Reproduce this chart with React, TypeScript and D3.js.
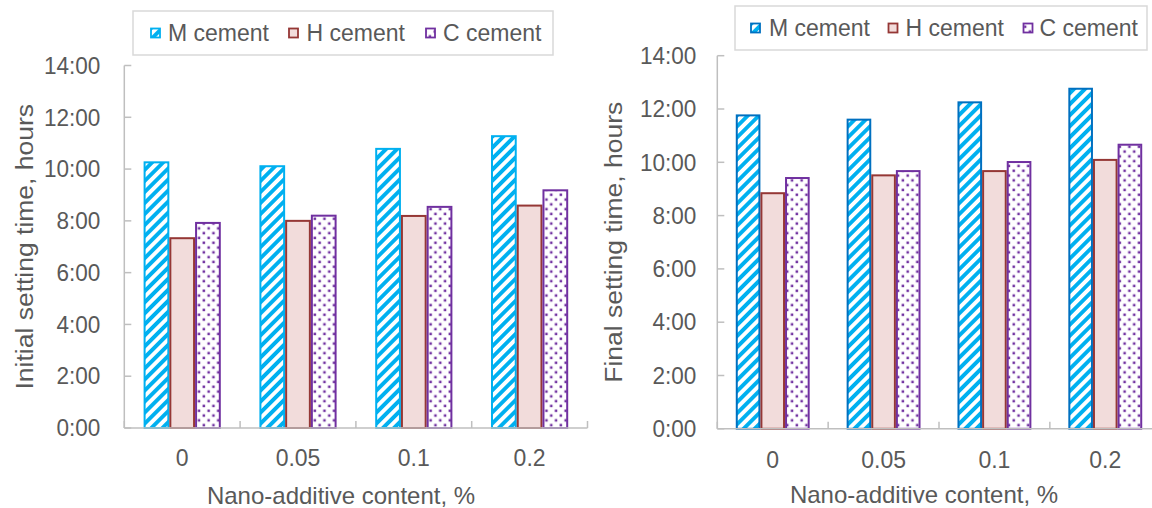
import React from "react";
import * as d3 from "d3";

// Nano-additive dosage categories (x axis)
const contents = ["0", "0.05", "0.1", "0.2"];
const seriesNames = ["M cement", "H cement", "C cement"];

// Setting times in hours
const initialM = [10.26, 10.11, 10.78, 11.27];
const initialH = [7.33, 8.0, 8.19, 8.59];
const initialC = [7.92, 8.2, 8.54, 9.18];

const finalM = [11.76, 11.6, 12.25, 12.76];
const finalH = [8.84, 9.51, 9.67, 10.09];
const finalC = [9.41, 9.67, 10.01, 10.66];

const yTicks = [0, 2, 4, 6, 8, 10, 12, 14];

const FONT = "'Liberation Sans', Arial, Helvetica, sans-serif";
const TEXT = "#595959";
const AXIS = "#BFBFBF";

type Label = {
  x: number;
  y: number;
  text: string;
  size: number;
  anchor?: "start" | "middle" | "end";
  sx?: number;
  rotate?: number;
};

// Text drawn in its own frame so it can be rotated / narrowed
function Txt({ x, y, text, size, anchor = "start", sx = 1, rotate = 0 }: Label) {
  return (
    <text
      transform={`translate(${x},${y}) rotate(${rotate}) scale(${sx},1)`}
      dy="0.35em"
      textAnchor={anchor}
      fontSize={size}
      fill={TEXT}
      fontFamily={FONT}
    >
      {text}
    </text>
  );
}

type PanelProps = {
  id: string;
  left: number;
  right: number;
  top: number;
  bottom: number;
  values: number[][];
  yTitle: string;
  yTitleX: number;
  tickGap: number;
  mStroke: string;
  legend: { x0: number; x1: number; y0: number; y1: number; items: { mx: number; tx: number }[] };
  xLabelY: number;
  xTitleX: number;
  xTitleY: number;
};

function Patterns({ id }: { id: string }) {
  return (
    <defs>
      <pattern
        id={`stripe-${id}`}
        patternUnits="userSpaceOnUse"
        width={7.8}
        height={7.8}
        patternTransform="rotate(45)"
      >
        <rect width={7.8} height={7.8} fill="#ffffff" />
        <rect x={0} width={3.9} height={7.8} fill="#00B0F0" />
      </pattern>
      <pattern id={`dots-${id}`} patternUnits="userSpaceOnUse" width={9.6} height={9.6}>
        <rect width={9.6} height={9.6} fill="#ffffff" />
        <rect x={1.5} y={1.5} width={2.5} height={2.5} fill="#7030A0" />
        <rect x={6.3} y={6.3} width={2.5} height={2.5} fill="#7030A0" />
      </pattern>
      <clipPath id={`clip-${id}`}>
        <rect x={0} y={0} width={1152} height={508} />
      </clipPath>
    </defs>
  );
}

function Panel(p: PanelProps) {
  const y = d3.scaleLinear().domain([0, 14]).range([p.bottom, p.top]);
  const x0 = d3.scaleBand<string>().domain(contents).range([p.left, p.right]).padding(0);
  const x1 = d3
    .scaleBand<string>()
    .domain(seriesNames)
    .range([0, x0.bandwidth()])
    .paddingInner(0)
    .paddingOuter(0.75);

  const fills = [`url(#stripe-${p.id})`, "#F2DCDB", `url(#dots-${p.id})`];
  const strokes = [p.mStroke, "#953735", "#7030A0"];

  const boundaries = d3.range(contents.length + 1).map((i) => p.left + i * x0.step());
  const legendCy = (p.legend.y0 + p.legend.y1) / 2;

  return (
    <g>
      <Patterns id={p.id} />
      {/* legend */}
      <rect
        x={p.legend.x0}
        y={p.legend.y0}
        width={p.legend.x1 - p.legend.x0}
        height={p.legend.y1 - p.legend.y0}
        fill="#ffffff"
        stroke="#D9D9D9"
        strokeWidth={1.5}
      />
      {seriesNames.map((s, i) => {
        const it = p.legend.items[i];
        return (
          <g key={s}>
            <rect
              x={it.mx}
              y={legendCy - 4.5}
              width={9}
              height={9}
              fill={fills[i]}
              stroke={strokes[i]}
              strokeWidth={1.8}
            />
            <Txt x={it.tx} y={legendCy} text={s} size={23} />
          </g>
        );
      })}

      {/* bars */}
      <g clipPath={`url(#clip-${p.id})`}>
        {contents.map((c, ci) => (
          <g key={c} transform={`translate(${x0(c)},0)`}>
            {seriesNames.map((s, si) => {
              const v = p.values[si][ci];
              const bx = x1(s)!;
              return (
                <rect
                  key={s}
                  x={bx + 1}
                  y={y(v)}
                  width={x1.bandwidth() - 2}
                  height={y(0) - y(v)}
                  fill={fills[si]}
                  stroke={strokes[si]}
                  strokeWidth={2}
                />
              );
            })}
          </g>
        ))}
      </g>

      {/* y axis */}
      <line x1={p.left} x2={p.left} y1={p.top} y2={p.bottom} stroke={AXIS} strokeWidth={1.5} />
      {yTicks.map((t) => (
        <g key={t}>
          <line x1={p.left} x2={p.left + 7} y1={y(t)} y2={y(t)} stroke={AXIS} strokeWidth={1.5} />
          <Txt
            x={p.left - p.tickGap}
            y={y(t)}
            text={`${t}:00`}
            size={23.5}
            sx={0.96}
            anchor="end"
          />
        </g>
      ))}
      <g transform={`translate(${p.yTitleX},${(p.top + p.bottom) / 2}) rotate(-90) scale(1,0.9)`}>
        <Txt x={0} y={0} text={p.yTitle} size={26.5} anchor="middle" />
      </g>

      {/* x axis */}
      <line x1={p.left} x2={p.right} y1={p.bottom} y2={p.bottom} stroke={AXIS} strokeWidth={1.5} />
      {boundaries.map((bx, i) => (
        <line key={i} x1={bx} x2={bx} y1={p.bottom} y2={p.bottom - 7} stroke={AXIS} strokeWidth={1.5} />
      ))}
      {contents.map((c) => (
        <Txt
          key={c}
          x={x0(c)! + x0.bandwidth() / 2}
          y={p.xLabelY}
          text={c}
          size={23}
          anchor="middle"
        />
      ))}
      <Txt x={p.xTitleX} y={p.xTitleY} text="Nano-additive content, %" size={24} anchor="middle" />
    </g>
  );
}

export default function App() {
  return (
    <div style={{ position: "fixed", left: 0, top: 0 }}>
      <svg width={1152} height={508} style={{ display: "block", background: "#ffffff" }}>
        <Panel
          id="initial"
          left={124.3}
          right={587.5}
          top={65.5}
          bottom={428}
          values={[initialM, initialH, initialC]}
          yTitle="Initial setting time, hours"
          yTitleX={25}
          tickGap={24}
          mStroke="#00B0F0"
          legend={{
            x0: 133,
            x1: 553,
            y0: 11,
            y1: 55,
            items: [
              { mx: 151, tx: 168 },
              { mx: 289, tx: 306.5 },
              { mx: 426, tx: 443 },
            ],
          }}
          xLabelY={458}
          xTitleX={341}
          xTitleY={496}
        />
        <Panel
          id="final"
          left={717.3}
          right={1160.7}
          top={55.7}
          bottom={428.8}
          values={[finalM, finalH, finalC]}
          yTitle="Final setting time, hours"
          yTitleX={614}
          tickGap={21}
          mStroke="#0070C0"
          legend={{
            x0: 735,
            x1: 1147,
            y0: 6,
            y1: 50,
            items: [
              { mx: 751, tx: 769 },
              { mx: 888.5, tx: 905.5 },
              { mx: 1023.5, tx: 1039.5 },
            ],
          }}
          xLabelY={460}
          xTitleX={924}
          xTitleY={495}
        />
      </svg>
    </div>
  );
}
